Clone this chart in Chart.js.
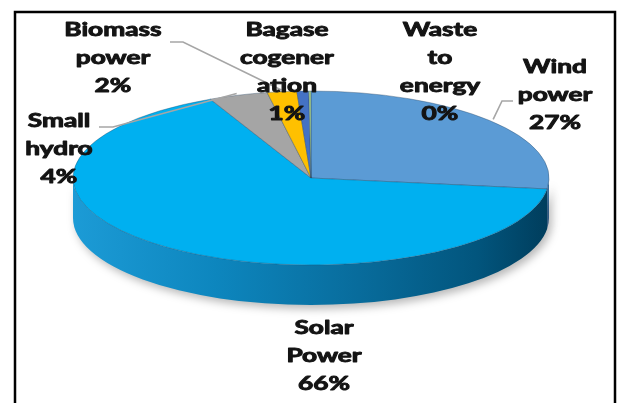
<!DOCTYPE html>
<html>
<head>
<meta charset="utf-8">
<script src="https://cdn.jsdelivr.net/npm/chart.js@4.4.1/dist/chart.umd.min.js"></script>
<style>
  html, body { margin: 0; padding: 0; background: #fff; }
  #wrap { width: 619px; height: 403px; position: relative; }
</style>
</head>
<body>
<div id="wrap"><canvas id="pieChart" width="619" height="403"></canvas></div>
<script>
// === data ===
const categories = ["Wind power", "Solar Power", "Small hydro", "Biomass power", "Bagase cogeneration", "Waste to energy"];
const shares = [27, 66, 4, 2, 0.8, 0.15];
const sliceColors = ["#5b9bd5", "#00b0f0", "#a5a5a5", "#ffc000", "#4472c4", "#a9d08e"];
const sideColors = ["#3a6d9c", "#0a77aa", "#6f6f6f", "#b38600", "#2d4f8c", "#6f9a55"];
// label text as it is wrapped in the picture
const labelLines = [
  ["Wind", "power"],
  ["Solar", "Power"],
  ["Small", "hydro"],
  ["Biomass", "power"],
  ["Bagase", "cogener", "ation"],
  ["Waste", "to", "energy"],
];

// === layout of the 3D look ===
const pieCx = 311;     // centre x of the top face
const pieCy = 178;     // centre y of the top face
const pieRx = 238;     // horizontal radius
const pieRy = 87;      // vertical radius (tilt)
const depth = 40;      // thickness of the side wall
const tilt = pieRy / pieRx;

// label block positions (first line centre) and leader elbows
const labelPos = [
  { x: 555, y: 67 },
  { x: 324, y: 328 },
  { x: 59, y: 121 },
  { x: 113, y: 30 },
  { x: 287, y: 30 },
  { x: 440, y: 30 },
];
const leaders = [
  { from: [513, 101], elbow: [502, 101] },
  null,
  { from: [99, 127], elbow: [113, 127] },
  { from: [170, 42], elbow: [183, 42] },
  null,
  null,
];
const lineGap = 28;

const total = shares.reduce((a, b) => a + b, 0);
const percents = shares.map((v) => Math.round((v / total) * 100) + "%");

// point on the top-face rim for a given canvas angle
function rimPoint(angle, scale) {
  return [pieCx + pieRx * scale * Math.cos(angle), pieCy + pieRy * scale * Math.sin(angle)];
}

// squash the pie into an ellipse and draw the side wall first
const tiltPlugin = {
  id: "tilt",
  beforeDatasetsDraw(chart) {
    const ctx = chart.ctx;
    const meta = chart.getDatasetMeta(0);

    // side wall (front half only: angles 0..PI)
    ctx.save();
    ctx.shadowColor = "rgba(0,0,0,0.28)";
    ctx.shadowBlur = 8;
    ctx.shadowOffsetX = 3;
    ctx.shadowOffsetY = 4;
    meta.data.forEach((arc, i) => {
      const a0 = Math.max(arc.startAngle, 0);
      const a1 = Math.min(arc.endAngle, Math.PI);
      if (a1 <= a0) return;
      ctx.beginPath();
      ctx.ellipse(pieCx, pieCy, pieRx, pieRy, 0, a0, a1);
      ctx.ellipse(pieCx, pieCy + depth, pieRx, pieRy, 0, a1, a0, true);
      ctx.closePath();
      let fill = sideColors[i];
      if (i === 1) {
        const g = ctx.createLinearGradient(pieCx - pieRx, 0, pieCx + pieRx, 0);
        g.addColorStop(0, "#1c9bd6");
        g.addColorStop(0.3, "#0d86be");
        g.addColorStop(0.6, "#086c9c");
        g.addColorStop(0.85, "#02557d");
        g.addColorStop(1, "#003d5c");
        fill = g;
      }
      ctx.fillStyle = fill;
      ctx.fill();
    });
    ctx.restore();

    // top face: squash the library's own arcs
    const c = meta.data[0];
    ctx.save();
    ctx.translate(pieCx - c.x, pieCy);
    ctx.scale(1, tilt);
    ctx.translate(0, -c.y);
  },
  afterDatasetsDraw(chart) {
    chart.ctx.restore();
  },
  afterDraw(chart) {
    const ctx = chart.ctx;
    const meta = chart.getDatasetMeta(0);

    // frame around the chart
    ctx.save();
    ctx.strokeStyle = "#000";
    ctx.lineWidth = 2.5;
    ctx.strokeRect(15, 12, 600, 400);
    ctx.restore();

    // leader lines
    ctx.save();
    ctx.strokeStyle = "#a6a6a6";
    ctx.lineWidth = 1.6;
    leaders.forEach((ld, i) => {
      if (!ld) return;
      const arc = meta.data[i];
      const mid = (arc.startAngle + arc.endAngle) / 2;
      const end = rimPoint(mid, 1.02);
      ctx.beginPath();
      ctx.moveTo(ld.from[0], ld.from[1]);
      ctx.lineTo(ld.elbow[0], ld.elbow[1]);
      ctx.lineTo(end[0], end[1]);
      ctx.stroke();
    });
    ctx.restore();

    // data labels
    ctx.save();
    ctx.fillStyle = "#141414";
    ctx.strokeStyle = "#141414";
    ctx.lineWidth = 0.9;
    ctx.lineJoin = "round";
    ctx.font = "bold 18px Lato";
    ctx.textAlign = "center";
    ctx.textBaseline = "middle";
    labelLines.forEach((lines, i) => {
      const all = lines.concat([percents[i]]);
      all.forEach((txt, j) => {
        ctx.save();
        ctx.translate(labelPos[i].x, labelPos[i].y + j * lineGap);
        ctx.scale(1.46, 1);
        ctx.fillText(txt, 0, 0);
        ctx.strokeText(txt, 0, 0);
        ctx.restore();
      });
    });
    ctx.restore();
  },
};

new Chart(document.getElementById("pieChart"), {
  type: "pie",
  data: {
    labels: categories,
    datasets: [
      {
        data: shares,
        backgroundColor: sliceColors,
        borderColor: "rgba(40,70,100,0.55)",
        borderWidth: 1,
      },
    ],
  },
  options: {
    responsive: false,
    animation: false,
    events: [],
    radius: pieRx,
    layout: { padding: 0 },
    plugins: {
      legend: { display: false },
      tooltip: { enabled: false },
      title: { display: false },
    },
  },
  plugins: [tiltPlugin],
});
</script>
</body>
</html>
